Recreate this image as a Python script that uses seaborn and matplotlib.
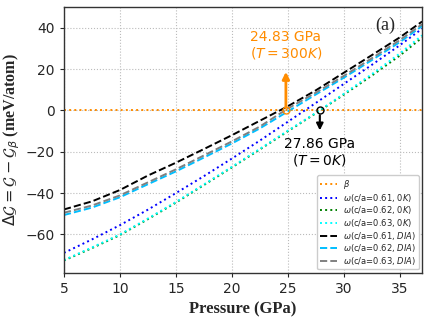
import numpy as np
import pandas as pd
import matplotlib
matplotlib.use("Agg")
import matplotlib.pyplot as plt
import seaborn as sns

pressure = [5, 7.5, 10, 12.5, 15, 17.5, 20, 22.5, 25, 27.5, 30, 32.5, 35, 37]
beta = [0] * len(pressure)
w061_0K = [-68.9, -62.4, -55.5, -48.0, -40.0, -31.8, -23.3, -14.6, -5.5, 3.6, 12.8, 22.0, 31.5, 39.5]
w062_0K = [-72.6, -66.6, -60.3, -52.6, -44.6, -36.1, -27.6, -18.9, -10.1, -1.4, 7.6, 16.8, 26.5, 35.2]
w063_0K = [-72.4, -66.3, -60.0, -52.3, -44.3, -35.8, -27.3, -18.6, -9.8, -1.2, 8.0, 17.5, 27.5, 36.3]
w061_DIA = [-47.9, -44.0, -38.5, -31.5, -25.3, -18.7, -12.0, -5.0, 2.0, 9.7, 18.2, 26.7, 35.3, 43.0]
w062_DIA = [-50.6, -47.0, -42.0, -35.7, -29.5, -22.8, -16.0, -8.7, -0.5, 7.7, 15.8, 24.3, 33.0, 40.8]
w063_DIA = [-49.5, -46.0, -41.1, -34.8, -28.5, -21.8, -15.0, -7.8, 0.9, 8.6, 16.7, 25.2, 34.0, 41.7]

labels = [r"$\beta$",
          r"$\omega$(c/a=0.61, $0K$)",
          r"$\omega$(c/a=0.62, $0K$)",
          r"$\omega$(c/a=0.63, $0K$)",
          r"$\omega$(c/a=0.61, $DIA$)",
          r"$\omega$(c/a=0.62, $DIA$)",
          r"$\omega$(c/a=0.63, $DIA$)"]
series = [beta, w061_0K, w062_0K, w063_0K, w061_DIA, w062_DIA, w063_DIA]
colors = ["darkorange", "blue", "green", "cyan", "black", "deepskyblue", "gray"]
styles = [":", ":", ":", ":", "--", "--", "--"]

p_300K = 24.83
p_0K = 27.86

sns.set_style("white")
fig = plt.figure(figsize=(4.29, 3.19), dpi=100)
ax = fig.add_axes([0.149, 0.145, 0.835, 0.833])

for lab, ys, c, ls in zip(labels, series, colors, styles):
    df = pd.DataFrame({"P": pressure, "G": ys})
    sns.lineplot(data=df, x="P", y="G", ax=ax, color=c, linestyle=ls,
                 linewidth=1.4, label=lab)

ax.plot([p_300K], [0], marker="o", mfc="none", mec="darkorange", ms=5, mew=1)
ax.plot([p_0K], [0], marker="o", mfc="none", mec="black", ms=5, mew=1)

ax.annotate("", xy=(p_300K, 20), xytext=(p_300K, 0),
            arrowprops=dict(arrowstyle="-|>", color="darkorange", lw=2, mutation_scale=10))
ax.annotate("", xy=(p_0K, -11), xytext=(p_0K, -1),
            arrowprops=dict(arrowstyle="-|>", color="black", lw=1.5, mutation_scale=10))
ax.text(p_300K, 31.5, "24.83 GPa\n" + r"($T=300K$)", color="darkorange",
        ha="center", va="center", fontsize=10, linespacing=1.1)
ax.text(p_0K, -20.5, "27.86 GPa\n" + r"($T=0K$)", color="black",
        ha="center", va="center", fontsize=10, linespacing=1.1)
ax.text(33.7, 41.0, "(a)", fontsize=13, family="Liberation Serif", ha="center", va="center")

ax.set_xlim(5, 37)
ax.set_ylim(-78.5, 50)
ax.set_xticks([5, 10, 15, 20, 25, 30, 35])
ax.set_yticks([-60, -40, -20, 0, 20, 40])
ax.tick_params(labelsize=10, length=3, left=True, bottom=True)
ax.grid(True, linestyle=":", color="#bbbbbb", linewidth=0.8)
for s in ax.spines.values():
    s.set_color("#333333")
    s.set_linewidth(1.0)

ax.set_xlabel("Pressure (GPa)", fontsize=12, fontweight="bold", family="Liberation Serif")
ax.set_ylabel(r"$\Delta\mathcal{G} = \mathcal{G} - \mathcal{G}_\beta$ (meV/atom)",
              fontsize=11.5, fontweight="bold", family="Liberation Serif")
ax.yaxis.set_label_coords(-0.118, 0.5)

ax.legend(loc="lower right", fontsize=6, frameon=True, framealpha=1, edgecolor="#cccccc",
          labelspacing=0.08, borderpad=0.3, handlelength=2.0, borderaxespad=0.4)

fig.savefig("out.png", dpi=100)
